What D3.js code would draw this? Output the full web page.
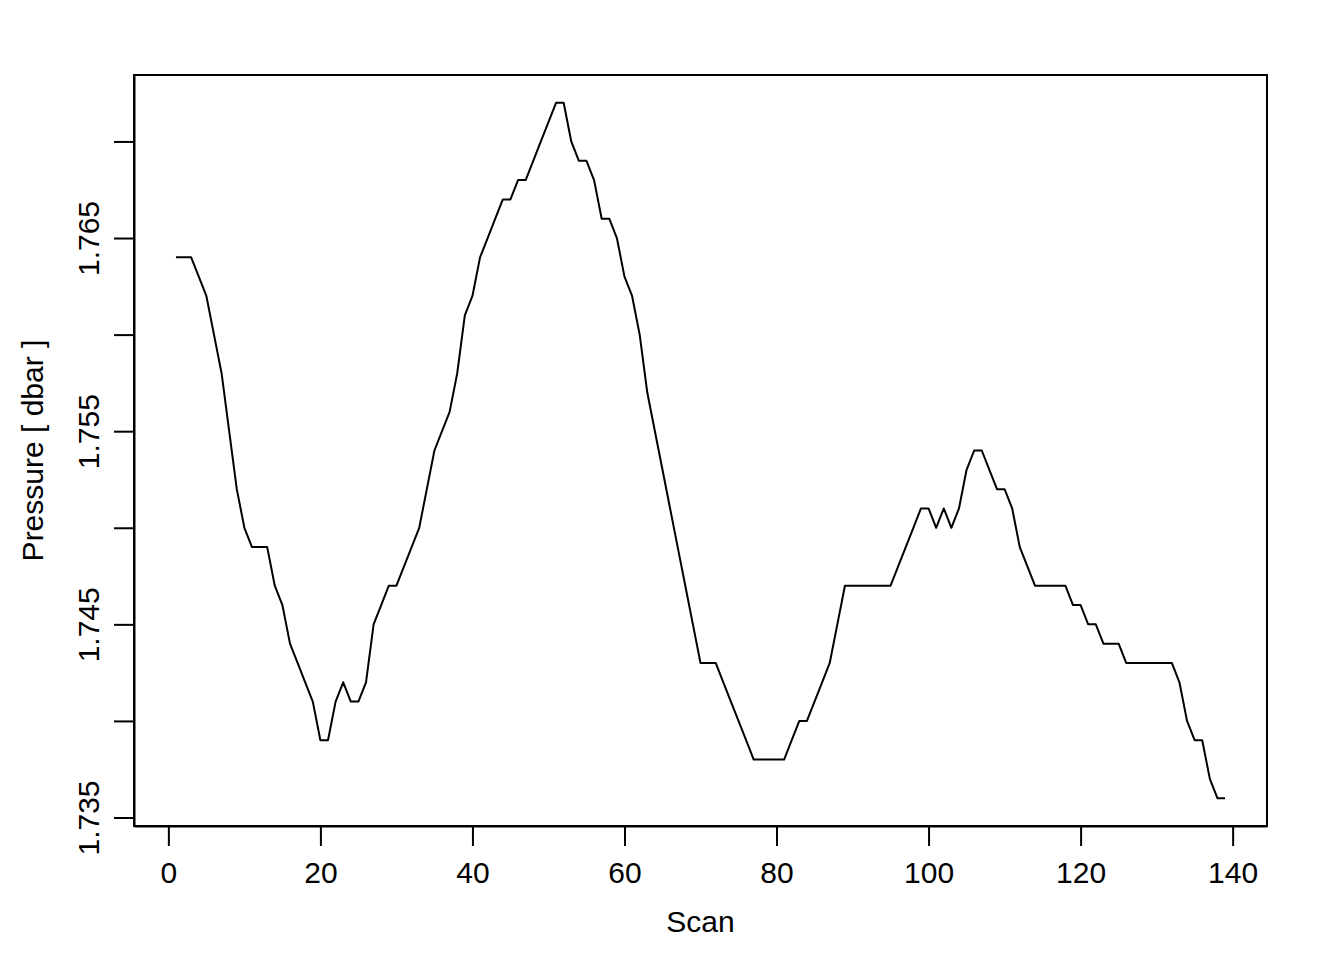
<!DOCTYPE html>
<html>
<head>
<meta charset="utf-8">
<script src="https://cdn.jsdelivr.net/npm/d3@7"></script>
<style>
    body { margin: 0; background: #fff; }
    svg { display: block; }
    text { font-family: "Liberation Sans", Arial, Helvetica, sans-serif; fill: #000; }
</style>
</head>
<body>
<svg id="chart" width="1344" height="960"></svg>
<script>

// scan numbers 1..139
var scans = d3.range(1, 140);

// pressure [dbar]
var pressure = [
    1.764, 1.764, 1.764, 1.763, 1.762, 1.760, 1.758, 1.755, 1.752, 1.750,
    1.749, 1.749, 1.749, 1.747, 1.746, 1.744, 1.743, 1.742, 1.741, 1.739,
    1.739, 1.741, 1.742, 1.741, 1.741, 1.742, 1.745, 1.746, 1.747, 1.747,
    1.748, 1.749, 1.750, 1.752, 1.754, 1.755, 1.756, 1.758, 1.761, 1.762,
    1.764, 1.765, 1.766, 1.767, 1.767, 1.768, 1.768, 1.769, 1.770, 1.771,
    1.772, 1.772, 1.770, 1.769, 1.769, 1.768, 1.766, 1.766, 1.765, 1.763,
    1.762, 1.760, 1.757, 1.755, 1.753, 1.751, 1.749, 1.747, 1.745, 1.743,
    1.743, 1.743, 1.742, 1.741, 1.740, 1.739, 1.738, 1.738, 1.738, 1.738,
    1.738, 1.739, 1.740, 1.740, 1.741, 1.742, 1.743, 1.745, 1.747, 1.747,
    1.747, 1.747, 1.747, 1.747, 1.747, 1.748, 1.749, 1.750, 1.751, 1.751,
    1.750, 1.751, 1.750, 1.751, 1.753, 1.754, 1.754, 1.753, 1.752, 1.752,
    1.751, 1.749, 1.748, 1.747, 1.747, 1.747, 1.747, 1.747, 1.746, 1.746,
    1.745, 1.745, 1.744, 1.744, 1.744, 1.743, 1.743, 1.743, 1.743, 1.743,
    1.743, 1.743, 1.742, 1.740, 1.739, 1.739, 1.737, 1.736, 1.736
];

var xTicks = [0, 20, 40, 60, 80, 100, 120, 140];
var yTicks = [1.735, 1.740, 1.745, 1.750, 1.755, 1.760, 1.765, 1.770];
var yLabels = [1.735, 1.745, 1.755, 1.765];

var xTitle = 'Scan';
var yTitle = 'Pressure [ dbar ]';

var data = scans.map((s, i) => ({ scan: s, p: pressure[i] }));

// plot region (R style box)
var box = { left: 134, right: 1267, top: 75, bottom: 826 };
var fontSize = 30;

// R pads the data range by 4% on each side
function padded(ext) {
    let d = (ext[1] - ext[0]) * 0.04;
    return [ext[0] - d, ext[1] + d];
}

var scaleX = d3.scaleLinear()
    .domain(padded(d3.extent(scans)))
    .range([box.left, box.right]);

var scaleY = d3.scaleLinear()
    .domain(padded(d3.extent(pressure)))
    .range([box.bottom, box.top]);

var svg = d3.select('#chart');

svg.append('rect')
    .attr('width', 1344)
    .attr('height', 960)
    .attr('fill', '#fff');

// axes

let xAxis = d3.axisBottom(scaleX)
    .tickValues(xTicks)
    .tickSizeInner(20)
    .tickSizeOuter(0)
    .tickFormat(d3.format('d'));

let yAxis = d3.axisLeft(scaleY)
    .tickValues(yTicks)
    .tickSizeInner(20)
    .tickSizeOuter(0)
    .tickFormat(d => yLabels.some(v => Math.abs(v - d) < 1e-9) ? d3.format('.3f')(d) : '');

let bottomAxis = svg.append('g')
    .attr('transform', `translate(0 ${box.bottom})`)
    .call(xAxis);

bottomAxis.selectAll('text')
    .attr('y', 57)
    .attr('dy', null)
    .style('font-size', fontSize + 'px');

let leftAxis = svg.append('g')
    .attr('transform', `translate(${box.left} 0)`)
    .call(yAxis);

leftAxis.selectAll('text')
    .attr('transform', 'rotate(-90)')
    .attr('x', 0)
    .attr('y', -35)
    .attr('dy', null)
    .attr('text-anchor', 'middle')
    .style('font-size', fontSize + 'px');

svg.selectAll('.domain, .tick line')
    .attr('stroke', '#000')
    .attr('stroke-width', 2);

svg.selectAll('.tick text').attr('fill', '#000');

// box

svg.append('rect')
    .attr('x', box.left)
    .attr('y', box.top)
    .attr('width', box.right - box.left)
    .attr('height', box.bottom - box.top)
    .attr('fill', 'none')
    .attr('stroke', '#000')
    .attr('stroke-width', 2);

// line

let line = d3.line()
    .x(d => scaleX(d.scan))
    .y(d => scaleY(d.p));

svg.append('path')
    .datum(data)
    .attr('d', line)
    .attr('fill', 'none')
    .attr('stroke', '#000')
    .attr('stroke-width', 2)
    .attr('stroke-linejoin', 'round');

// titles

svg.append('text')
    .attr('x', (box.left + box.right) / 2)
    .attr('y', 932)
    .attr('text-anchor', 'middle')
    .style('font-size', fontSize + 'px')
    .text(xTitle);

svg.append('text')
    .attr('transform', `translate(43 ${(box.top + box.bottom) / 2}) rotate(-90)`)
    .attr('text-anchor', 'middle')
    .style('font-size', fontSize + 'px')
    .text(yTitle);

</script>
</body>
</html>
